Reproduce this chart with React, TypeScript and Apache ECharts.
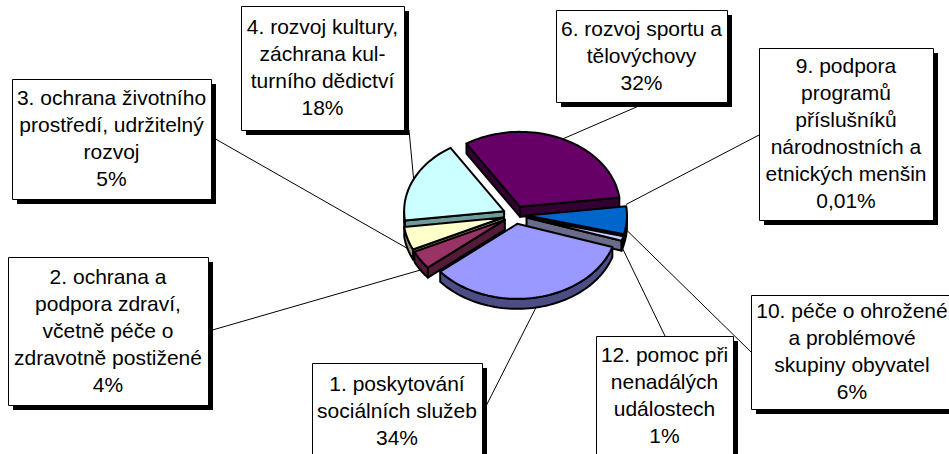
import React, { useEffect, useRef } from "react";
import * as echarts from "echarts";

// ---- data ----
const categories = [
  "1. poskytování\nsociálních služeb",
  "2. ochrana a\npodpora zdraví,\nvčetně péče o\nzdravotně postižené",
  "3. ochrana životního\nprostředí, udržitelný\nrozvoj",
  "4. rozvoj kultury,\nzáchrana kul-\nturního dědictví",
  "6. rozvoj sportu a\ntělovýchovy",
  "9. podpora\nprogramů\npříslušníků\nnárodnostních a\netnických menšin",
  "10. péče o ohrožené\na problémové\nskupiny obyvatel",
  "12. pomoc při\nnenadálých\nudálostech",
];
const shares = [34, 4, 5, 18, 32, 0.01, 6, 1];

// ---- styles / layout ----
const topColors = ["#9999FF", "#993366", "#FFFFCC", "#CCFFFF", "#660066", "#FF8080", "#0066CC", "#CCCCFF"];
const sideColors = ["#4D4D86", "#521B37", "#9C9C74", "#6E9C9C", "#330033", "#804040", "#003366", "#6B6B8A"];
// [x, y, w, h, anchorX, anchorY]
const labelBoxes = [
  [312, 363, 170, 96, 484, 410],
  [8, 257, 200, 148, 209, 331],
  [12, 79, 199, 120, 212, 137],
  [241, 6, 163, 124, 409, 130],
  [556, 10, 171, 92, 648, 102],
  [759, 48, 174, 172, 759, 135],
  [751, 295, 202, 114, 751, 352],
  [596, 336, 137, 120, 665, 336],
];

const CX = 515, CY = 215, RX = 100, RY = 75, DEPTH = 10, EXPLODE = 12, START = 108;
const LH = 27;
const FONT = '21px "Liberation Sans", Arial, sans-serif';

const rad = (d: number) => (d * Math.PI) / 180;

function arcPts(ox: number, oy: number, from: number, to: number, dy = 0) {
  const n = Math.max(2, Math.ceil(Math.abs(to - from) / 2) + 1);
  const pts: number[][] = [];
  for (let k = 0; k < n; k++) {
    const d = from + ((to - from) * k) / (n - 1);
    pts.push([ox + RX * Math.sin(rad(d)), oy - RY * Math.cos(rad(d)) + dy]);
  }
  return pts;
}

function fmtPct(v: number) {
  return v < 1 ? v.toFixed(2).replace(".", ",") + "%" : Math.round(v) + "%";
}

const total = shares.reduce((s, v) => s + v, 0);

function renderItem(params: any, api: any) {
  const i = params.dataIndex;
  const val = api.value(0);
  let acc = 0;
  for (let j = 0; j < i; j++) acc += shares[j];
  const a = START + (acc / total) * 360;
  const b = a + (val / total) * 360;
  const mid = (a + b) / 2;
  const ox = CX + EXPLODE * Math.sin(rad(mid));
  const oy = CY - EXPLODE * (RY / RX) * Math.cos(rad(mid));
  const children: any[] = [];
  const stroke = { stroke: "#000", lineWidth: 2, lineJoin: "round" };

  if (b - a > 0.5) {
    // outer wall visible parts
    for (const base of [90, 450]) {
      const c = Math.max(a, base), d = Math.min(b, base + 180);
      if (d > c) {
        const top = arcPts(ox, oy, c, d);
        const bot = arcPts(ox, oy, c, d, DEPTH).reverse();
        const midY = oy + RY * Math.abs(Math.cos(rad((c + d) / 2)));
        children.push({
          type: "polygon",
          shape: { points: top.concat(bot) },
          style: { fill: sideColors[i], ...stroke },
          z2: 10 + Math.round(midY / 4),
        });
      }
    }
    // radial walls
    const wall = (ang: number) => {
      const r = [ox + RX * Math.sin(rad(ang)), oy - RY * Math.cos(rad(ang))];
      children.push({
        type: "polygon",
        shape: { points: [[ox, oy], r, [r[0], r[1] + DEPTH], [ox, oy + DEPTH]] },
        style: { fill: sideColors[i], ...stroke },
        z2: 10 + Math.round((oy + r[1]) / 8),
      });
    };
    if (Math.sin(rad(a)) < 0) wall(a);
    if (Math.sin(rad(b)) > 0) wall(b);
    // top face
    children.push({
      type: "polygon",
      shape: { points: [[ox, oy]].concat(arcPts(ox, oy, a, b)) },
      style: { fill: topColors[i], ...stroke },
      z2: 200,
    });
  }

  // leader line
  const box = labelBoxes[i];
  const front = Math.cos(rad(mid)) < 0;
  const px = ox + RX * Math.sin(rad(mid));
  const py = oy - RY * Math.cos(rad(mid)) + (front ? DEPTH : 0);
  children.push({
    type: "line",
    shape: { x1: box[4], y1: box[5], x2: px, y2: py },
    style: { stroke: "#000", lineWidth: 1 },
    z2: 300,
  });

  // label box
  const [bx, by, bw, bh] = box;
  children.push({
    type: "rect",
    shape: { x: bx + 5, y: by + 5, width: bw, height: bh },
    style: { fill: "#000" },
    z2: 400,
  });
  children.push({
    type: "rect",
    shape: { x: bx + 0.5, y: by + 0.5, width: bw, height: bh },
    style: { fill: "#fff", stroke: "#000", lineWidth: 1 },
    z2: 401,
  });
  const lines = categories[i].split("\n").concat([fmtPct(val)]);
  const cy = by + bh / 2 - 1;
  lines.forEach((t, k) => {
    children.push({
      type: "text",
      style: {
        text: t,
        x: bx + bw / 2,
        y: cy + (k - (lines.length - 1) / 2) * LH,
        fill: "#000",
        font: FONT,
        textAlign: "center",
        textVerticalAlign: "middle",
        align: "center",
        verticalAlign: "middle",
      },
      z2: 402,
    });
  });

  return { type: "group", children };
}

export default function App() {
  const ref = useRef<HTMLDivElement>(null);
  useEffect(() => {
    const chart = echarts.init(ref.current!, null, { renderer: "svg" });
    chart.setOption({
      animation: false,
      backgroundColor: "#ffffff",
      series: [
        {
          type: "custom",
          coordinateSystem: "none",
          silent: true,
          renderItem,
          data: shares.map((v, i) => ({ name: categories[i], value: v })),
        },
      ],
    });
    return () => chart.dispose();
  }, []);
  return (
    <div
      ref={ref}
      style={{ position: "fixed", left: 0, top: 0, width: 949, height: 454 }}
    />
  );
}
